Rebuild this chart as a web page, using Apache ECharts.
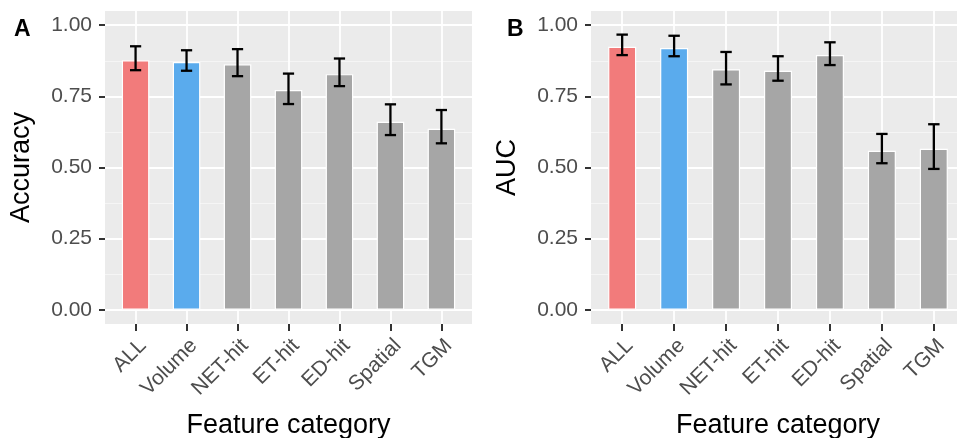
<!DOCTYPE html>
<html><head><meta charset="utf-8">
<script src="https://cdn.jsdelivr.net/npm/echarts@6/dist/echarts.min.js"></script>
<style>html,body{margin:0;padding:0;background:#fff}#c{width:957px;height:438px}</style>
</head><body><div id="c"></div>
<script>
const categories = ['ALL','Volume','NET-hit','ET-hit','ED-hit','Spatial','TGM'];
const accuracy     = [0.877,0.871,0.863,0.772,0.828,0.661,0.636];
const accuracyLow  = [0.842,0.840,0.821,0.723,0.786,0.614,0.585];
const accuracyHigh = [0.926,0.912,0.916,0.830,0.883,0.722,0.702];
const auc     = [0.924,0.920,0.845,0.840,0.895,0.559,0.566];
const aucLow  = [0.895,0.891,0.792,0.805,0.860,0.515,0.495];
const aucHigh = [0.967,0.963,0.906,0.891,0.940,0.618,0.652];
const yTicks = [0,0.25,0.5,0.75,1];
const yMinor = [0.125,0.375,0.625,0.875];
const panelLetters = ['A','B'];
const yTitles = ['Accuracy','AUC'];
const xTitle = 'Feature category';

const barColors = ['#F27B7B','#5AABED','#A6A6A6','#A6A6A6','#A6A6A6','#A6A6A6','#A6A6A6'];
const FONT = 'Liberation Sans, Arial, Helvetica, sans-serif';
const xIdx = categories.map((c,i)=>i);

const panels = [
  {left:105, width:367, vals:accuracy, lo:accuracyLow, hi:accuracyHigh},
  {left:591, width:374, vals:auc, lo:aucLow, hi:aucHigh}
];

const grid=[], xAxis=[], yAxis=[], series=[];
panels.forEach((p,k)=>{
  grid.push({left:p.left, top:11, width:p.width, height:313, show:true,
    backgroundColor:'#EBEBEB', borderWidth:0, containLabel:false, outerBoundsMode:'none'});
  xAxis.push({type:'value', gridIndex:k, min:-0.6, max:6.6, position:'bottom',
    axisLine:{show:false, onZero:false},
    axisTick:{show:true, customValues:xIdx, length:7, lineStyle:{color:'#333', width:2}},
    axisLabel:{customValues:xIdx, formatter:v=>categories[Math.round(v)]||'',
      rotate:45, verticalAlign:'top', align:'right', fontSize:21, color:'#4D4D4D', fontFamily:FONT, margin:11},
    splitLine:{show:true, lineStyle:{color:'#FFFFFF', width:1.8}},
    name:xTitle, nameLocation:'middle', nameGap:88,
    nameTextStyle:{fontSize:27, color:'#000', fontFamily:FONT}
  });
  yAxis.push({type:'value', gridIndex:k, min:-0.05, max:1.05, position:'left',
    axisLine:{show:false, onZero:false},
    axisTick:{show:true, customValues:yTicks, length:6, lineStyle:{color:'#333', width:2}},
    axisLabel:{customValues:yTicks, formatter:v=>v.toFixed(2), fontSize:21, color:'#4D4D4D', fontFamily:FONT, margin:13},
    splitLine:{show:true, lineStyle:{color:'#FFFFFF', width:1.8}},
    name:yTitles[k], nameLocation:'middle', nameGap:70,
    nameTextStyle:{fontSize:27, color:'#000', fontFamily:FONT}
  });
  yAxis.push({type:'value', gridIndex:k, min:-0.05, max:1.05, position:'left',
    axisLine:{show:false, onZero:false},
    axisTick:{show:false, customValues:yMinor},
    axisLabel:{show:false, customValues:yMinor},
    splitLine:{show:true, lineStyle:{color:'#F5F5F5', width:1}}
  });
  series.push({type:'bar', xAxisIndex:k, yAxisIndex:2*k, barWidth:'54%',
    data:p.vals.map((v,i)=>({value:[i,v], itemStyle:{color:barColors[i]}})),
    itemStyle:{borderColor:'#FFFFFF', borderWidth:1.2}, z:3});
  series.push({type:'custom', xAxisIndex:k, yAxisIndex:2*k, z:5,
    data:p.vals.map((v,i)=>[i, p.lo[i], p.hi[i]]),
    encode:{x:0, y:[1,2]},
    renderItem:(params, api)=>{
      const x=api.value(0), lo=api.value(1), hi=api.value(2);
      const a=api.coord([x,lo]), b=api.coord([x,hi]);
      const half=api.size([0.11,0])[0];
      const st={stroke:'#000', lineWidth:2.3};
      return {type:'group', children:[
        {type:'line', shape:{x1:a[0],y1:a[1],x2:b[0],y2:b[1]}, style:st},
        {type:'line', shape:{x1:a[0]-half,y1:a[1],x2:a[0]+half,y2:a[1]}, style:st},
        {type:'line', shape:{x1:b[0]-half,y1:b[1],x2:b[0]+half,y2:b[1]}, style:st}
      ]};
    }
  });
});

const chart = echarts.init(document.getElementById('c'), null, {renderer:'canvas'});
chart.setOption({
  animation:false,
  backgroundColor:'#FFFFFF',
  grid, xAxis, yAxis, series,
  graphic:[
    {type:'text', left:14, top:18, style:{text:panelLetters[0], font:'bold 23px '+FONT, fill:'#000'}},
    {type:'text', left:507, top:18, style:{text:panelLetters[1], font:'bold 23px '+FONT, fill:'#000'}}
  ]
});
</script></body></html>
